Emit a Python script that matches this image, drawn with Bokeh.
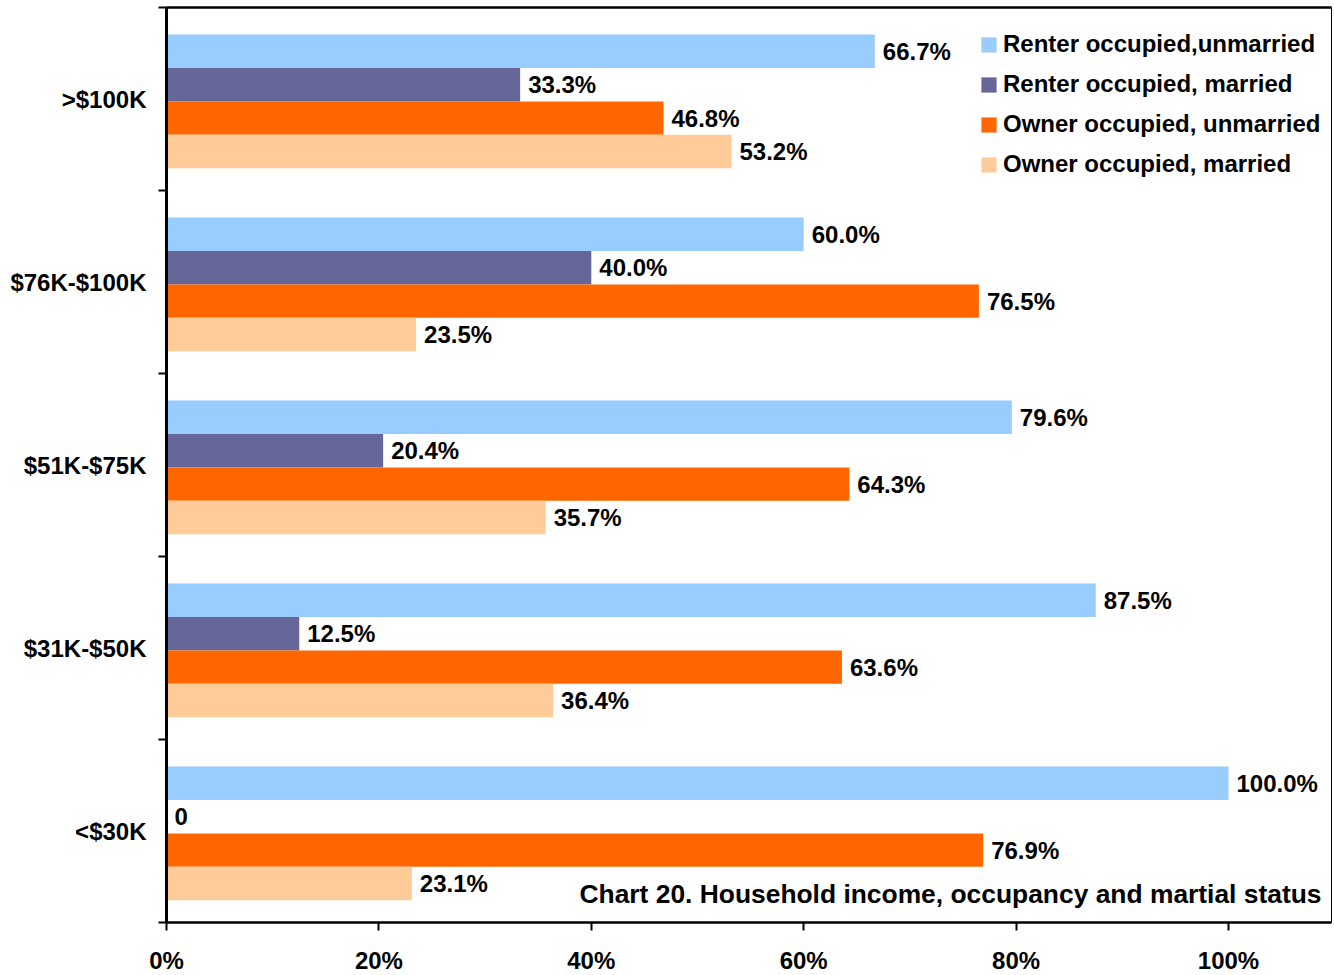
from bokeh.plotting import figure
from bokeh.models import (ColumnDataSource, FixedTicker, NumeralTickFormatter, Legend,
                          LegendItem, LinearAxis, Label, Range1d)
from bokeh.core.properties import value
from bokeh.embed import file_html
from bokeh.resources import INLINE

# ---- data ----
categories = [">$100K", "$76K-$100K", "$51K-$75K", "$31K-$50K", "<$30K"]
renter_unmarried = [66.7, 60.0, 79.6, 87.5, 100.0]
renter_married = [33.3, 40.0, 20.4, 12.5, 0.0]
owner_unmarried = [46.8, 76.5, 64.3, 63.6, 76.9]
owner_married = [53.2, 23.5, 35.7, 36.4, 23.1]
series_names = ["Renter occupied,unmarried", "Renter occupied, married",
                "Owner occupied, unmarried", "Owner occupied, married"]
x_ticks = [0, 0.2, 0.4, 0.6, 0.8, 1.0]
title_text = "Chart 20. Household income, occupancy and martial status"

# ---- styles ----
colors = ["#99CCFF", "#666699", "#FF6600", "#FFCC99"]
FONT = "Liberation Sans"
BAR_H = 0.183
SHIFT = 0.013

series_values = [renter_unmarried, renter_married, owner_unmarried, owner_married]
n = len(categories)
centers = [n - 0.5 - i for i in range(n)]

p = figure(frame_width=1165, frame_height=915,
           x_range=Range1d(0, 1.097), y_range=Range1d(0, n),
           output_backend="svg", toolbar_location=None,
           min_border_left=166, min_border_right=3, min_border_top=7, min_border_bottom=53)
p.background_fill_color = "white"
p.border_fill_color = "white"
p.outline_line_color = "black"
p.outline_line_width = 1
p.xgrid.visible = False
p.ygrid.visible = False

legend_items = []
for j, (vals, name, col) in enumerate(zip(series_values, series_names, colors)):
    ys = [c + (1.5 - j) * BAR_H - SHIFT for c in centers]
    xs = [v / 100.0 for v in vals]
    labels = ["0" if v == 0 else f"{v:.1f}%" for v in vals]
    src = ColumnDataSource(dict(y=ys, right=xs, label=labels))
    r = p.hbar(y="y", right="right", left=0, height=BAR_H, source=src,
               fill_color=col, line_color=None)
    p.text(x="right", y="y", text="label", source=src, x_offset=8,
           text_baseline="middle", text_align="left",
           text_font=value(FONT), text_font_style="bold",
           text_font_size="24px", text_color="black")
    legend_items.append(LegendItem(label=name, renderers=[r]))

# x axis
xa = p.xaxis[0]
xa.ticker = FixedTicker(ticks=x_ticks)
xa.formatter = NumeralTickFormatter(format="0%")
xa.axis_line_width = 2.5
xa.axis_line_color = "black"
xa.major_tick_out = 8
xa.major_tick_in = 0
xa.major_tick_line_width = 2
xa.minor_tick_out = 0
xa.minor_tick_in = 0
xa.major_label_standoff = 16
xa.major_label_text_font = FONT
xa.major_label_text_font_style = "bold"
xa.major_label_text_font_size = "24px"
xa.major_label_text_color = "black"

# y axis: labels at band centers, ticks at band boundaries
ya = p.yaxis[0]
ya.ticker = FixedTicker(ticks=centers, minor_ticks=list(range(n + 1)))
ya.major_label_overrides = {c: cat for c, cat in zip(centers, categories)}
ya.axis_line_width = 3
ya.axis_line_color = "black"
ya.major_tick_out = 0
ya.major_tick_in = 0
ya.minor_tick_out = 8
ya.minor_tick_in = 0
ya.minor_tick_line_width = 2
ya.minor_tick_line_color = "black"
ya.major_label_standoff = 12
ya.major_label_text_font = FONT
ya.major_label_text_font_style = "bold"
ya.major_label_text_font_size = "24px"
ya.major_label_text_color = "black"

# thick top border
top = LinearAxis(ticker=FixedTicker(ticks=[]), axis_line_width=2.5, axis_line_color="black",
                 major_tick_out=0, major_tick_in=0, minor_tick_out=0, minor_tick_in=0,
                 major_label_standoff=0, major_label_text_font_size="0px")
p.add_layout(top, "above")

legend = Legend(items=legend_items, location=(813, 744),
                label_text_font=FONT, label_text_font_style="bold",
                label_text_font_size="24px", label_text_color="black",
                glyph_width=19, glyph_height=19, label_standoff=5,
                spacing=12, padding=0, margin=0,
                border_line_color=None, background_fill_alpha=0)
p.add_layout(legend)

p.add_layout(Label(x=1.0876, y=0.158, text=title_text, text_align="right",
                   text_baseline="middle", text_font=FONT, text_font_style="bold",
                   text_font_size="26.4px", text_color="black"))

open("out.html", "w").write(file_html(p, INLINE))
